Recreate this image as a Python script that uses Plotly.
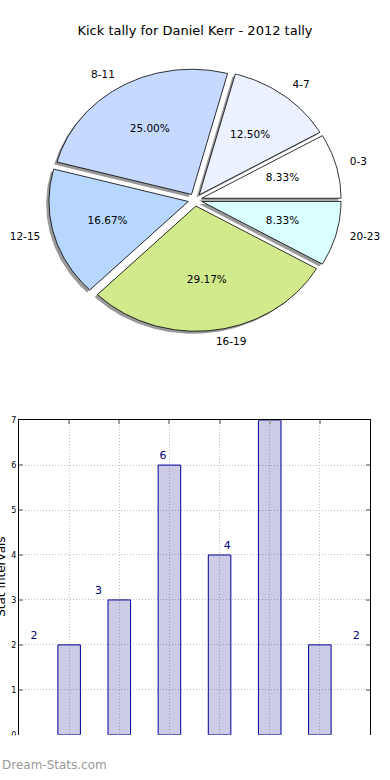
import numpy as np
import plotly.graph_objects as go

# ---- data ----
categories = ["0-3", "4-7", "8-11", "12-15", "16-19", "20-23"]
kicks = [2, 3, 6, 4, 7, 2]
slice_colors = ["#ffffff", "#ebf1ff", "#c6d9ff", "#b8d7ff", "#d1ea8c", "#d9ffff"]
bar_positions = [1, 2, 3, 4, 5, 6]
y_ticks = [0, 1, 2, 3, 4, 5, 6, 7]
title_text = "Kick tally for Daniel Kerr - 2012 tally"
y_title = "Stat Intervals"

# ---- style constants ----
EXPLODE = 0.05
SHADOW_DX, SHADOW_DY = -0.02, -0.02
LABEL_DIST = 1.1
PCT_DIST = 0.6
FONT = "DejaVu Sans"

fig = go.Figure()

total = float(sum(kicks))
geo = []
start = 0.0
for v in kicks:
    a0 = start
    a1 = start + 360.0 * v / total
    start = a1
    m = np.radians((a0 + a1) / 2.0)
    cx, cy = EXPLODE * np.cos(m), EXPLODE * np.sin(m)
    t = np.radians(np.linspace(a0, a1, int(a1 - a0) + 2))
    xs = np.concatenate([[cx], cx + np.cos(t), [cx]])
    ys = np.concatenate([[cy], cy + np.sin(t), [cy]])
    geo.append((xs, ys, m, cx, cy))

# shadows
for xs, ys, m, cx, cy in geo:
    fig.add_trace(go.Scatter(
        x=xs + SHADOW_DX, y=ys + SHADOW_DY, mode="lines", fill="toself",
        fillcolor="rgba(70,70,70,0.55)", line=dict(width=0),
        hoverinfo="skip", showlegend=False, xaxis="x", yaxis="y"))

# wedges
for (xs, ys, m, cx, cy), col, cat, v in zip(geo, slice_colors, categories, kicks):
    fig.add_trace(go.Scatter(
        x=xs, y=ys, mode="lines", fill="toself", fillcolor=col,
        line=dict(color="black", width=0.8), name=cat,
        hoverinfo="text", text=f"{cat}: {v}", showlegend=False,
        xaxis="x", yaxis="y"))

# outer labels and percentages
lx, ly, lpos = [], [], []
px, py, ptxt = [], [], []
for (xs, ys, m, cx, cy), v in zip(geo, kicks):
    x_t = cx + LABEL_DIST * np.cos(m)
    y_t = cy + LABEL_DIST * np.sin(m)
    lx.append(x_t)
    ly.append(y_t)
    lpos.append("middle right" if x_t > 0 else "middle left")
    px.append(cx + PCT_DIST * np.cos(m))
    py.append(cy + PCT_DIST * np.sin(m))
    ptxt.append(f"{100.0 * v / total:.2f}%")

fig.add_trace(go.Scatter(
    x=lx, y=ly, mode="text", text=categories, textposition=lpos,
    textfont=dict(family=FONT, size=10.5, color="black"),
    hoverinfo="skip", showlegend=False, xaxis="x", yaxis="y", cliponaxis=False))
fig.add_trace(go.Scatter(
    x=px, y=py, mode="text", text=ptxt, textposition="middle center",
    textfont=dict(family=FONT, size=10.5, color="black"),
    hoverinfo="skip", showlegend=False, xaxis="x", yaxis="y", cliponaxis=False))

# ---- bar chart ----
fig.add_trace(go.Bar(
    x=bar_positions, y=kicks, width=0.45,
    marker=dict(color="rgba(0,0,128,0.2)", line=dict(color="#000099", width=1)),
    hovertext=categories, showlegend=False, xaxis="x2", yaxis="y2"))

lbl_x = [0.3 + i * 1.285 for i in range(len(kicks))]
lbl_y = [v + 0.2 for v in kicks]
fig.add_trace(go.Scatter(
    x=lbl_x, y=lbl_y, mode="text", text=[str(v) for v in kicks],
    textposition="middle center",
    textfont=dict(family=FONT, size=11, color="#000080"),
    hoverinfo="skip", showlegend=False, xaxis="x2", yaxis="y2", cliponaxis=False))

H = 780.0
W = 390.0

grid_style = dict(showgrid=True, gridcolor="#c0c0c0", griddash="1px,2px", gridwidth=1)
tick_style = dict(ticks="inside", ticklen=4, tickwidth=1.5, tickcolor="#a0a0a0")

fig.update_layout(
    width=390, height=780,
    margin=dict(l=0, r=0, t=0, b=0),
    paper_bgcolor="white", plot_bgcolor="white",
    font=dict(family=FONT, color="black"),
    title=dict(text=title_text, x=0.5, xanchor="center", y=1 - 30 / H, yanchor="middle",
               font=dict(family=FONT, size=13, color="black")),
    xaxis=dict(domain=[0, 1], range=[-1.4, 1.4], visible=False, fixedrange=True),
    yaxis=dict(domain=[1 - 350 / H, 1 - 50 / H], range=[-1.1991, 1.1698],
               visible=False, fixedrange=True),
    xaxis2=dict(domain=[19 / W, 370 / W], range=[0, 7], anchor="y2", side="top",
                tickvals=bar_positions, showticklabels=False,
                showline=True, linecolor="black", linewidth=1, mirror=False,
                zeroline=False, fixedrange=True,
                **tick_style, **grid_style),
    yaxis2=dict(domain=[1 - 739.3 / H, 1 - 421 / H], range=[0, 7], anchor="x2",
                tickvals=y_ticks, tickfont=dict(family=FONT, size=8, color="black"),
                showline=True, linecolor="black", linewidth=1, mirror="ticks",
                zeroline=False, fixedrange=True,
                **tick_style, **grid_style),
    shapes=[dict(type="rect", xref="paper", yref="paper", x0=-0.1, x1=1.1,
                 y0=-0.05, y1=1 - 740 / H, fillcolor="white", line=dict(width=0),
                 layer="above")],
    annotations=[
        dict(text=y_title, xref="paper", yref="paper", x=1.5 / W, y=1 - 580 / H,
             xanchor="center", yanchor="middle", textangle=-90, showarrow=False,
             font=dict(family=FONT, size=12, color="black")),
        dict(text="Dream-Stats.com", xref="paper", yref="paper", x=0, y=1 - 770 / H,
             xanchor="left", yanchor="middle", showarrow=False,
             font=dict(family=FONT, size=12, color="#999999")),
    ],
)

post = (
    "document.documentElement.style.margin='0';"
    "document.documentElement.style.overflow='hidden';"
    "document.body.style.margin='0';"
    "document.body.style.overflow='hidden';"
    "var gd=document.getElementById('{plot_id}');"
    "gd.parentElement.style.height='780px';"
    "gd.parentElement.style.overflow='hidden';"
)
fig.write_html("out.html", config={"displayModeBar": False}, post_script=post)
